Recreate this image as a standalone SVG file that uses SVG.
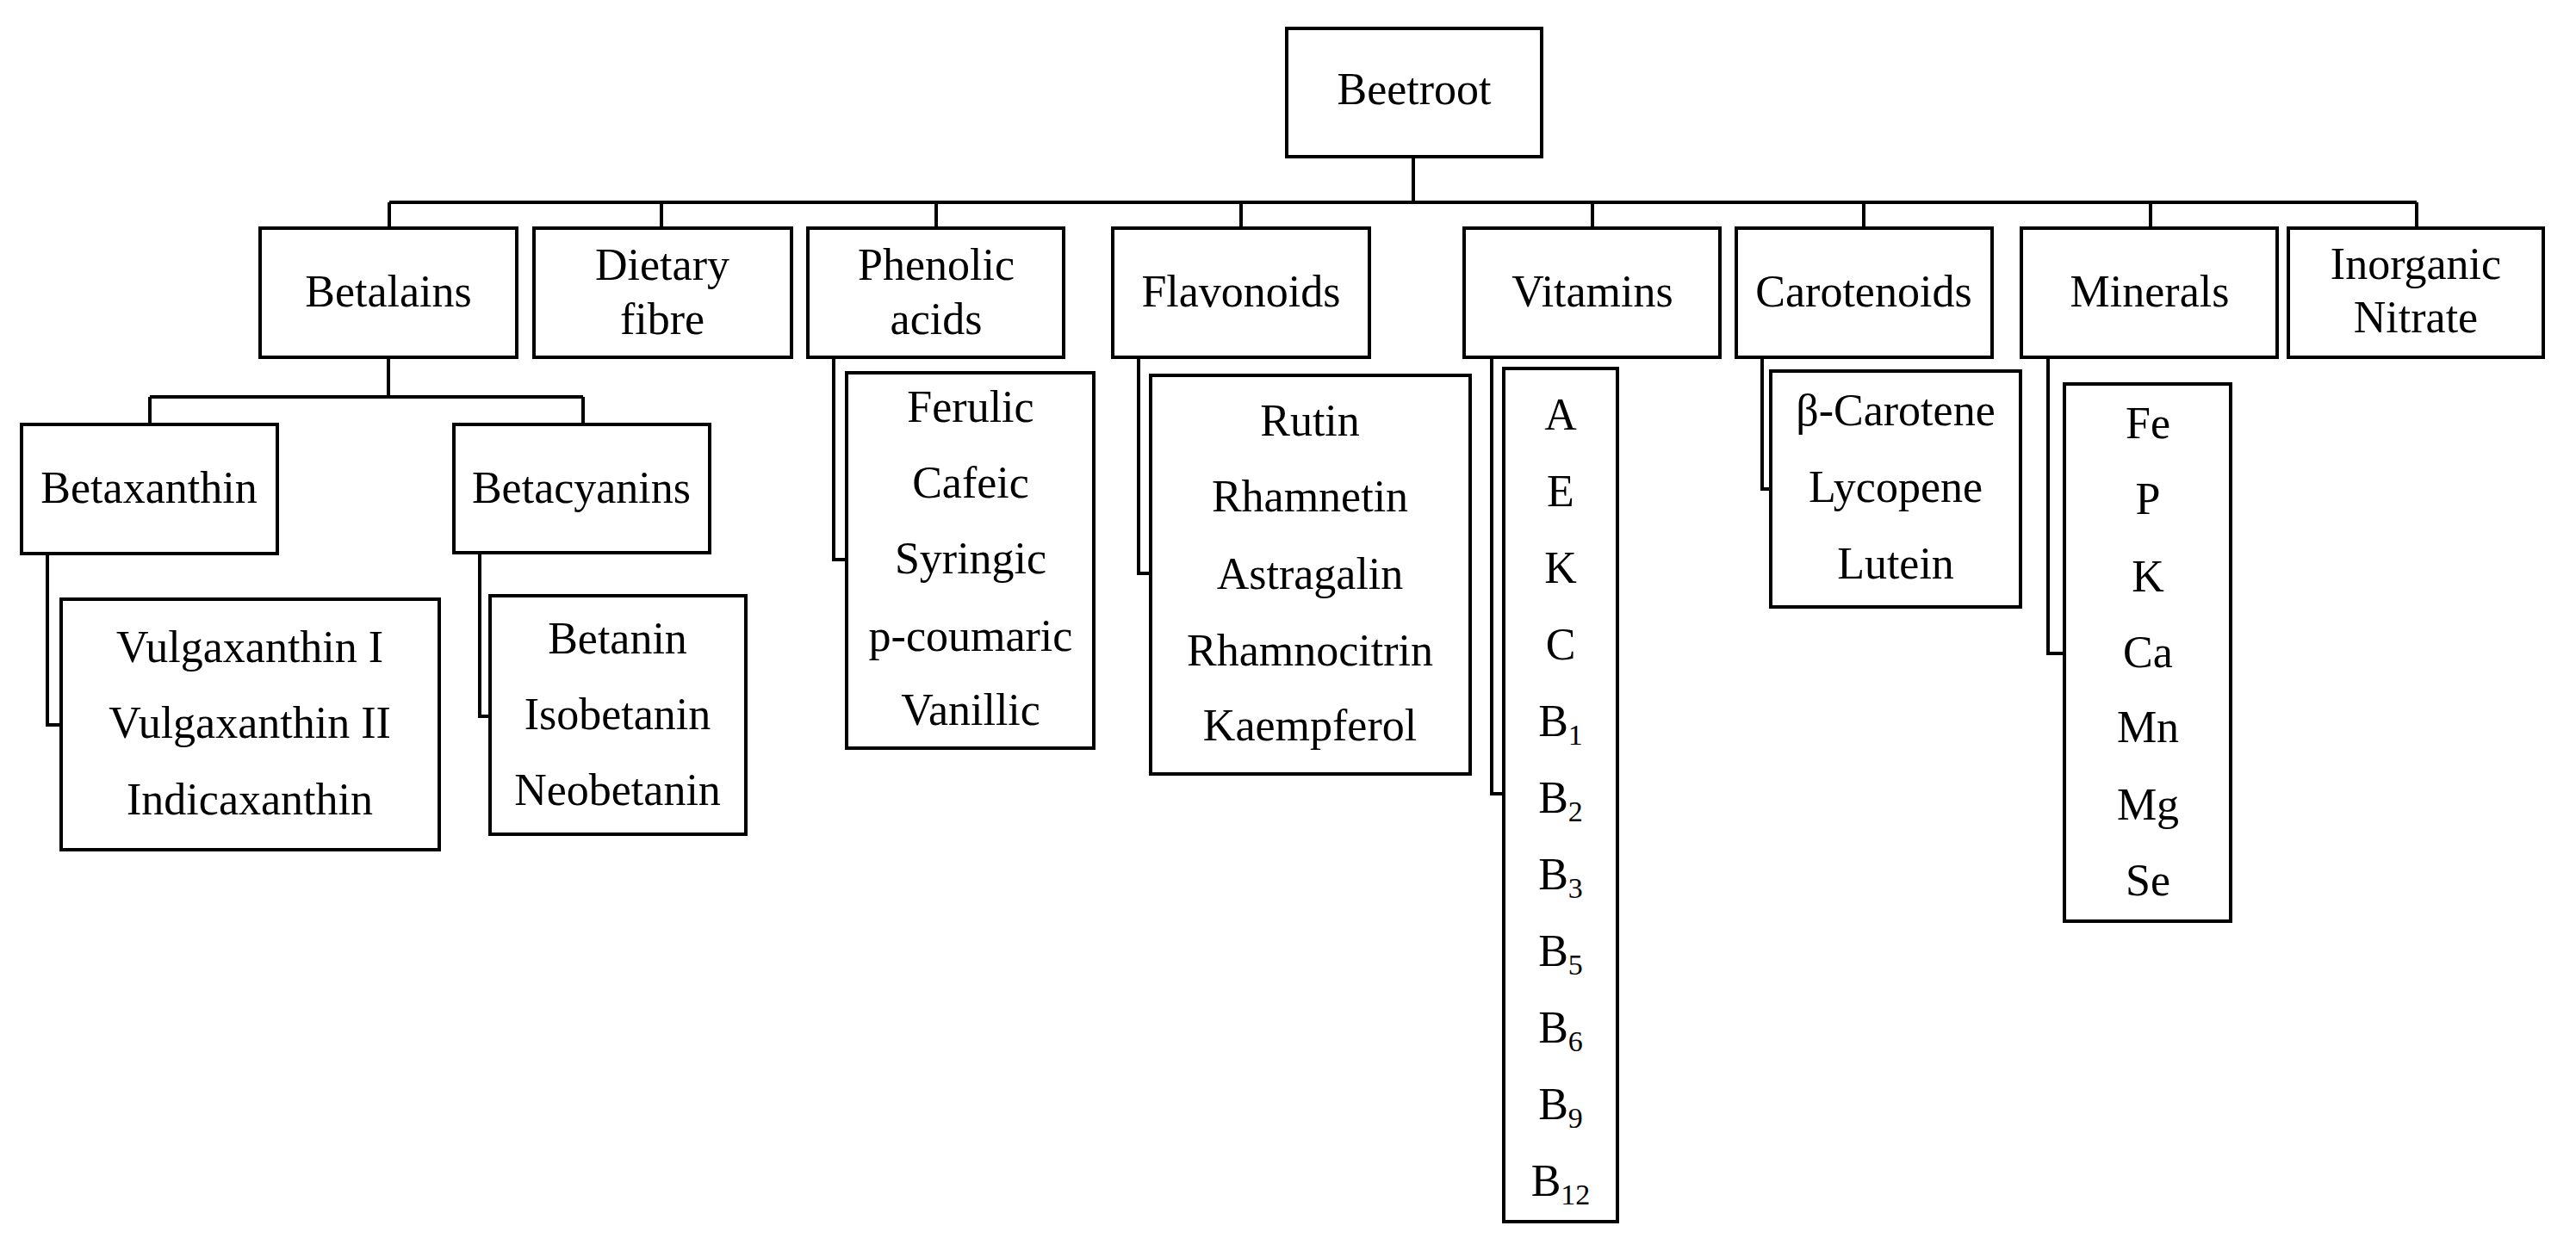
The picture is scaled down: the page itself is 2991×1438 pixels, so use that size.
<svg xmlns="http://www.w3.org/2000/svg" width="2991" height="1438" viewBox="0 0 2991 1438">
<style>
rect{fill:#fff;stroke:#000;stroke-width:4}
.c path{fill:none;stroke:#000;stroke-width:4}
text{font-family:"Liberation Serif","DejaVu Serif",serif;font-size:52px;fill:#000;text-anchor:middle}
.s{font-size:34px}
</style>
<rect width="2991" height="1438" style="stroke:none"/>
<g class="c">
<path d="M1641 182V235M452 235H2806M452 235V265M768 235V265M1087 235V265M1441 235V265M1849 235V265M2164 235V265M2497 235V265M2806 235V265"/>
<path d="M451 415V461M174 461H677M174 461V493M677 461V493"/>
<path d="M55 643V842H71M557 642V832H569M968 415V650H983M1322 415V666H1336M1732 414V922H1746M2046 414V568H2056M2378 414V759H2397"/>
</g>
<g id="beetroot"><rect x="1494" y="33" width="296" height="149"/><text x="1642" y="121">Beetroot</text></g>
<g id="betalains"><rect x="302" y="265" width="298" height="150"/><text x="451" y="356">Betalains</text></g>
<g id="dietary"><rect x="620" y="265" width="299" height="150"/><text x="769" y="325">Dietary</text><text x="769" y="388">fibre</text></g>
<g id="phenolic"><rect x="938" y="265" width="297" height="150"/><text x="1087" y="325">Phenolic</text><text x="1087" y="388">acids</text></g>
<g id="flavonoids"><rect x="1292" y="265" width="298" height="150"/><text x="1441" y="356">Flavonoids</text></g>
<g id="vitamins"><rect x="1700" y="265" width="297" height="150"/><text x="1849" y="356">Vitamins</text></g>
<g id="carotenoids"><rect x="2016" y="265" width="297" height="150"/><text x="2164" y="356">Carotenoids</text></g>
<g id="minerals"><rect x="2347" y="265" width="297" height="150"/><text x="2496" y="356">Minerals</text></g>
<g id="nitrate"><rect x="2657" y="265" width="296" height="150"/><text x="2805" y="324">Inorganic</text><text x="2805" y="386">Nitrate</text></g>
<g id="betaxanthin"><rect x="25" y="493" width="297" height="150"/><text x="173" y="584">Betaxanthin</text></g>
<g id="betacyanins"><rect x="527" y="493" width="297" height="149"/><text x="675" y="584">Betacyanins</text></g>
<g id="betaxanthin-list"><rect x="71" y="696" width="439" height="291"/><text x="290" y="769">Vulgaxanthin I</text><text x="290" y="857">Vulgaxanthin II</text><text x="290" y="946">Indicaxanthin</text></g>
<g id="betacyanin-list"><rect x="569" y="692" width="297" height="277"/><text x="717" y="759">Betanin</text><text x="717" y="847">Isobetanin</text><text x="717" y="935">Neobetanin</text></g>
<g id="phenolic-list"><rect x="983" y="433" width="287" height="436"/><text x="1127" y="490">Ferulic</text><text x="1127" y="578">Cafeic</text><text x="1127" y="666">Syringic</text><text x="1127" y="756">p-coumaric</text><text x="1127" y="842">Vanillic</text></g>
<g id="flavonoid-list"><rect x="1336" y="436" width="371" height="463"/><text x="1521" y="506">Rutin</text><text x="1521" y="594">Rhamnetin</text><text x="1521" y="684">Astragalin</text><text x="1521" y="773">Rhamnocitrin</text><text x="1521" y="860">Kaempferol</text></g>
<g id="vitamin-list"><rect x="1746" y="428" width="132" height="991"/>
<text x="1812" y="499">A</text><text x="1812" y="588">E</text><text x="1812" y="677">K</text><text x="1812" y="766">C</text>
<text x="1812" y="855">B<tspan class="s" dy="10">1</tspan></text>
<text x="1812" y="944">B<tspan class="s" dy="10">2</tspan></text>
<text x="1812" y="1033">B<tspan class="s" dy="10">3</tspan></text>
<text x="1812" y="1122">B<tspan class="s" dy="10">5</tspan></text>
<text x="1812" y="1211">B<tspan class="s" dy="10">6</tspan></text>
<text x="1812" y="1300">B<tspan class="s" dy="10">9</tspan></text>
<text x="1812" y="1389">B<tspan class="s" dy="10">12</tspan></text></g>
<g id="carotenoid-list"><rect x="2056" y="431" width="290" height="274"/><text x="2201" y="494">β-Carotene</text><text x="2201" y="583">Lycopene</text><text x="2201" y="672">Lutein</text></g>
<g id="mineral-list"><rect x="2397" y="446" width="193" height="624"/><text x="2494" y="509">Fe</text><text x="2494" y="597">P</text><text x="2494" y="687">K</text><text x="2494" y="775">Ca</text><text x="2494" y="862">Mn</text><text x="2494" y="952">Mg</text><text x="2494" y="1040">Se</text></g>
</svg>
